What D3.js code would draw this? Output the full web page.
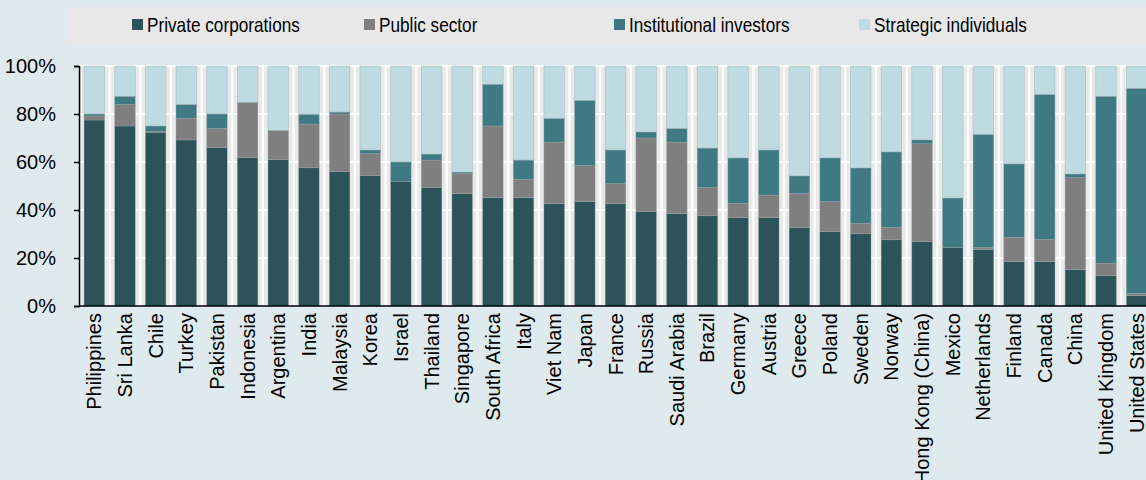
<!DOCTYPE html>
<html>
<head>
<meta charset="utf-8">
<script src="https://cdn.jsdelivr.net/npm/d3@7"></script>
<style>
  body { margin: 0; background: #deeaee; }
  svg { display: block; font-family: "Liberation Sans Narrow", "Arial Narrow", "Liberation Sans", Arial, sans-serif; }
</style>
</head>
<body>
<svg id="chart"></svg>
<script>
// data (shares, %)
var countries = ["Philippines", "Sri Lanka", "Chile", "Turkey", "Pakistan", "Indonesia", "Argentina", "India",
  "Malaysia", "Korea", "Israel", "Thailand", "Singapore", "South Africa", "Italy", "Viet Nam", "Japan", "France",
  "Russia", "Saudi Arabia", "Brazil", "Germany", "Austria", "Greece", "Poland", "Sweden", "Norway",
  "Hong Kong (China)", "Mexico", "Netherlands", "Finland", "Canada", "China", "United Kingdom", "United States"];
var privateCorp = [77.5, 75, 72.4, 69.2, 66, 61.8, 61, 57.6, 56, 54.3, 51.8, 49.3, 46.8, 45.1, 45.1, 42.6, 43.5,
  42.6, 39.3, 38.5, 37.6, 36.8, 36.8, 32.6, 31, 30.1, 27.6, 26.8, 24.3, 23.5, 18.5, 18.5, 15.1, 12.6, 4.3];
var publicSector = [1.7, 9, 0.3, 9, 8, 23.1, 12.2, 18.2, 24, 9.2, 0, 11.5, 8.3, 29.9, 7.7, 25.7, 15,
  8.4, 30.7, 29.8, 11.8, 6, 9.4, 14.4, 12.6, 4.3, 5.2, 40.8, 0, 0.9, 10.1, 9.3, 38.5, 5.2, 1];
var institutional = [0.8, 3.4, 2.3, 5.8, 6, 0, 0, 4.1, 0.8, 1.5, 8.2, 2.5, 0.7, 17.4, 8, 9.9, 27.2,
  14, 2.5, 5.7, 16.4, 18.9, 18.8, 7.2, 18.1, 23.1, 31.4, 1.6, 20.7, 47.1, 30.6, 60.4, 1.4, 69.6, 85.4];
var strategic = [20, 12.6, 25, 16, 20, 15.1, 26.8, 20.1, 19.2, 35, 40, 36.7, 44.2, 7.6, 39.2, 21.8, 14.3,
  35, 27.5, 26, 34.2, 38.3, 35, 45.8, 38.3, 42.5, 35.8, 30.8, 55, 28.5, 40.8, 11.8, 45, 12.6, 9.3];
var seriesNames = ["Private corporations", "Public sector", "Institutional investors", "Strategic individuals"];
var yTicks = [0, 0.2, 0.4, 0.6, 0.8, 1];

var colors = ["#2c535a", "#7f7f7f", "#3f7a84", "#bddbe0"];
var width = 1146, height = 480;

var rows = countries.map(function (c, i) {
  return { country: c, s0: privateCorp[i] / 100, s1: publicSector[i] / 100, s2: institutional[i] / 100, s3: strategic[i] / 100 };
});

var svg = d3.select("#chart").attr("width", width).attr("height", height);

var x = d3.scaleBand()
  .domain(countries)
  .range([79, 1152])
  .paddingInner(0.33)
  .paddingOuter(0.165);
var y = d3.scaleLinear()
  .domain([0, 1])
  .range([306, 66]);

// plot background
svg.append("rect")
  .attr("x", 79).attr("y", y(1))
  .attr("width", width - 79).attr("height", y(0) - y(1))
  .attr("fill", "#e9e9e9");

// vertical white separators
svg.append("g").selectAll("line")
  .data(countries)
  .enter().append("line")
  .attr("x1", function (d) { return x(d) + x.bandwidth() + (x.step() - x.bandwidth()) / 2; })
  .attr("x2", function (d) { return x(d) + x.bandwidth() + (x.step() - x.bandwidth()) / 2; })
  .attr("y1", y(1)).attr("y2", y(0))
  .attr("stroke", "#fff").attr("stroke-width", 2);

// horizontal gridlines
svg.append("g").selectAll("line")
  .data(yTicks.slice(1))
  .enter().append("line")
  .attr("x1", 79).attr("x2", width)
  .attr("y1", function (d) { return y(d); })
  .attr("y2", function (d) { return y(d); })
  .attr("stroke", "#fff").attr("stroke-width", 2);

// stacked bars
var stack = d3.stack().keys(["s0", "s1", "s2", "s3"]);
var layers = stack(rows);

svg.append("g").selectAll("g")
  .data(layers)
  .enter().append("g")
  .attr("fill", function (d, i) { return colors[i]; })
  .selectAll("rect")
  .data(function (d) { return d; })
  .enter().append("rect")
  .attr("x", function (d) { return x(d.data.country); })
  .attr("width", x.bandwidth())
  .attr("y", function (d) { return y(d[1]); })
  .attr("height", function (d) { return y(d[0]) - y(d[1]); })
  .attr("stroke", "#9aa5a7")
  .attr("stroke-width", 0.6)
  .attr("stroke-opacity", 0.6);

// x axis
var xAxis = svg.append("g")
  .attr("transform", "translate(0,306)")
  .call(d3.axisBottom(x).tickSize(0).tickSizeOuter(0));
xAxis.select(".domain").attr("d", "M79,0H" + width).attr("stroke", "#000").attr("stroke-width", 1.5);
xAxis.selectAll("text")
  .attr("font-size", 20)
  .attr("font-family", null)
  .attr("fill", "#000")
  .style("text-anchor", "end")
  .attr("transform", "rotate(-90)")
  .attr("x", -7)
  .attr("y", 0)
  .attr("dy", "0.35em");

// y axis
var yAxis = svg.append("g")
  .attr("transform", "translate(79,0)")
  .call(d3.axisLeft(y).tickValues(yTicks).tickFormat(d3.format(".0%")).tickSize(5).tickSizeOuter(5).tickPadding(18));
yAxis.select(".domain").attr("stroke", "#000").attr("stroke-width", 1.5);
yAxis.selectAll(".tick line").attr("stroke", "#000").attr("stroke-width", 1.5);
yAxis.selectAll("text").attr("font-size", 20).attr("font-family", null).attr("fill", "#000");

// legend
svg.append("rect")
  .attr("x", 68).attr("y", 7)
  .attr("width", width - 68).attr("height", 36)
  .attr("fill", "#e8e8e8");
var legendX = [132, 364, 614, 859];
var legend = svg.append("g").selectAll("g")
  .data(seriesNames)
  .enter().append("g")
  .attr("transform", function (d, i) { return "translate(" + legendX[i] + ",19)"; });
legend.append("rect")
  .attr("width", 11).attr("height", 11)
  .attr("fill", function (d, i) { return colors[i]; });
// narrow look like the original
legend.append("text")
  .attr("transform", "translate(15,5.5) scale(0.86,1)")
  .attr("dy", "0.35em")
  .attr("font-size", 20)
  .text(function (d) { return d; });
</script>
</body>
</html>
